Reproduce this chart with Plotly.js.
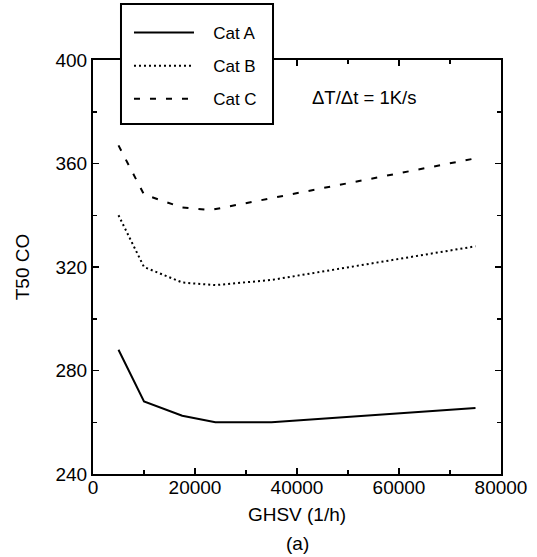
<!DOCTYPE html>
<html>
<head>
<meta charset="utf-8">
<script src="https://cdn.plot.ly/plotly-3.0.1.min.js"></script>
<style>html,body{margin:0;padding:0;background:#fff;}#chart{width:537px;height:557px;}</style>
</head>
<body>
<div id="chart"></div>
<script>
// GHSV (1/h) values for each catalyst
const ghsvA = [5000, 10000, 17500, 24000, 35000, 75000];
const t50A  = [288, 268, 262.5, 260, 260, 265.5];
const ghsvB = [5000, 10000, 17500, 24000, 35000, 75000];
const t50B  = [340, 320, 314, 313, 315, 328];
const ghsvC = [5000, 10000, 17500, 23000, 75000];
const t50C  = [367, 348, 343, 342, 362];
const seriesNames = ['Cat A', 'Cat B', 'Cat C'];
const xTickVals = [0, 20000, 40000, 60000, 80000];
const yTickVals = [240, 280, 320, 360, 400];

const FONT = 'Liberation Sans, Arial, Helvetica, sans-serif';
const PAD = '\u00a0\u00a0\u00a0';

const traces = [
  {x: ghsvA, y: t50A, name: PAD + seriesNames[0], mode: 'lines', legendgroup: 'a',
   line: {color: '#000', width: 2, dash: 'solid'}},
  {x: ghsvB, y: t50B, name: PAD + seriesNames[1], mode: 'lines', legendgroup: 'b',
   line: {color: '#000', width: 2, dash: '2px,3px'}},
  {x: ghsvC, y: t50C, name: PAD + seriesNames[2], mode: 'lines', legendgroup: 'c',
   line: {color: '#000', width: 2, dash: '6px,10px'}}
];

const axisCommon = {
  showgrid: false, zeroline: false, showline: true, linecolor: '#000', linewidth: 2,
  mirror: 'ticks', ticks: 'inside', ticklen: 6, tickwidth: 1.5, tickcolor: '#000',
  tickfont: {family: FONT, size: 19, color: '#000'}
};

const layout = {
  width: 537, height: 557,
  margin: {l: 93, r: 36, t: 60, b: 83},
  paper_bgcolor: '#fff', plot_bgcolor: '#fff',
  showlegend: true,
  legend: {
    x: 0.0882, y: 1.1087, xanchor: 'left', yanchor: 'top',
    bgcolor: 'rgba(0,0,0,0)', borderwidth: 0,
    font: {family: FONT, size: 17, color: '#000'},
    traceorder: 'grouped', tracegroupgap: 8, itemwidth: 60
  },
  shapes: [
    {type: 'rect', xref: 'paper', yref: 'paper', x0: 0.0686, x1: 0.4412, y0: 0.8454, y1: 1.1353,
     line: {color: '#000', width: 2}, fillcolor: '#fff', layer: 'above'}
  ],
  xaxis: Object.assign({}, axisCommon, {
    range: [0, 80000], tickvals: xTickVals, ticktext: xTickVals.map(String),
    ticklabelstandoff: -5,
    minor: {dtick: 10000, tick0: 0, ticks: 'inside', ticklen: 4, tickwidth: 1.5, tickcolor: '#000'},
    title: {text: 'GHSV (1/h)', font: {family: FONT, size: 19, color: '#000'}, standoff: 11}
  }),
  yaxis: Object.assign({}, axisCommon, {
    range: [240, 400], tickvals: yTickVals, ticktext: yTickVals.map(String),
    minor: {dtick: 20, tick0: 240, ticks: 'inside', ticklen: 4, tickwidth: 1.5, tickcolor: '#000'},
    title: {text: 'T50 CO', font: {family: FONT, size: 19, color: '#000'}, standoff: 21}
  }),
  annotations: [
    {text: 'ΔT/Δt = 1K/s', xref: 'paper', yref: 'paper', x: 0.532, y: 0.9106,
     xanchor: 'left', yanchor: 'middle', showarrow: false,
     font: {family: FONT, size: 18.5, color: '#000'}},
    {text: '(a)', xref: 'paper', yref: 'paper', x: 0.5, y: -0.168,
     xanchor: 'center', yanchor: 'middle', showarrow: false,
     font: {family: FONT, size: 19, color: '#000'}}
  ]
};

Plotly.newPlot('chart', traces, layout, {displayModeBar: false, staticPlot: true});
</script>
</body>
</html>
